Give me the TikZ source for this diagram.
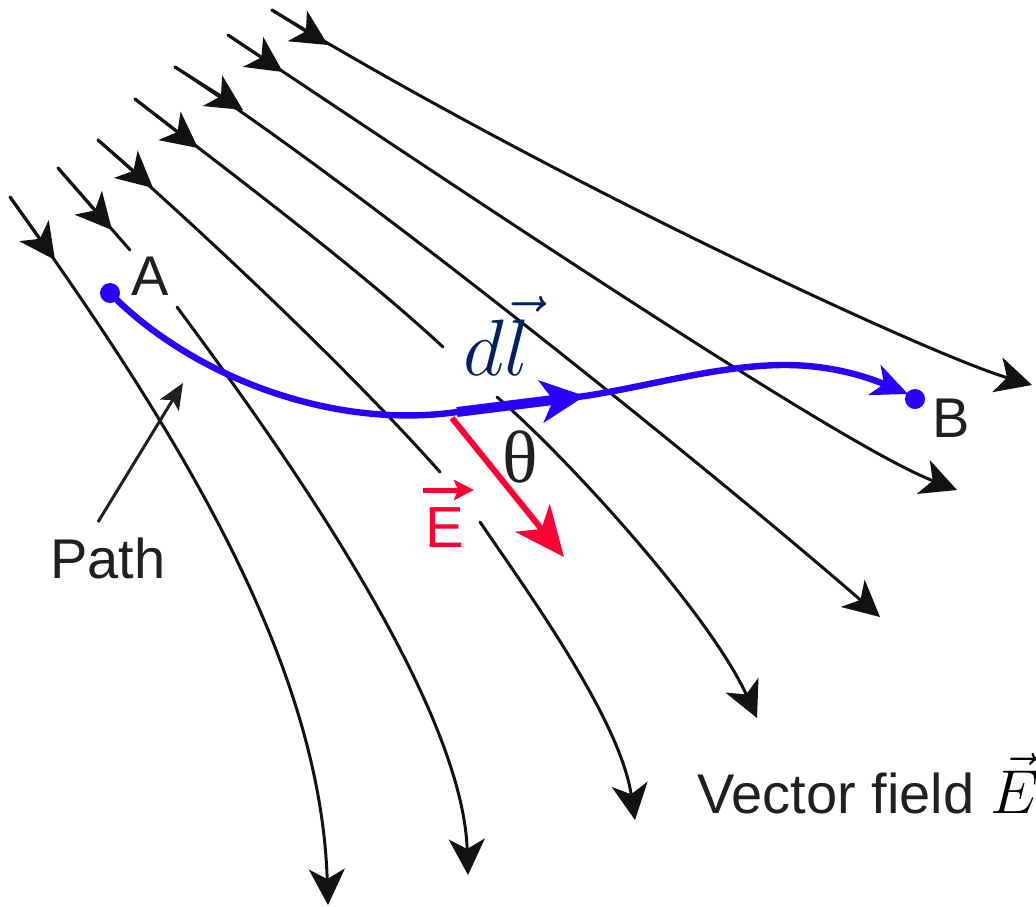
\RequirePackage{fix-cm}
\documentclass[tikz,border=0pt]{standalone}
\usepackage{fontspec}
\newfontfamily\labfont{Liberation Sans}
\newfontfamily\grfont{Liberation Serif}
\usetikzlibrary{arrows.meta}
\definecolor{fieldblack}{RGB}{20,18,16}
\definecolor{pathblue}{RGB}{40,0,255}
\definecolor{evred}{RGB}{255,0,51}
\definecolor{dlnavy}{RGB}{0,32,96}
\definecolor{txt}{RGB}{35,31,32}
\tikzset{
  fieldtip/.tip={Stealth[length=18pt,width=18pt,inset=5pt]},
  field/.style={draw=fieldblack, line width=1.5pt, line cap=round, -fieldtip},
  fieldseg/.style={draw=fieldblack, line width=1.5pt, line cap=round},
  lbl/.style={font=\labfont\fontsize{28}{34}\selectfont, text=txt, inner sep=0pt},
  dot/.style={circle, fill=pathblue, inner sep=0pt, minimum size=10pt},
}
\begin{document}
\begin{tikzpicture}[x=0.5pt,y=-0.5pt]
\useasboundingbox (0,0) rectangle (1036,906);
% ---- field lines ----
% line 1
\draw[field] (10,197) .. controls (160,407) and (320,650) .. (328,905);
\draw[field] (10,197) -- (55,260);
% line 2 (gap for A)
\draw[fieldseg] (58,168) -- (130,250);
\draw[field] (58,168) -- (112,230);
\draw[field] (177,307) .. controls (247,402) and (462,690) .. (468,875);
% line 3 (gap for E)
\draw[fieldseg] (98,140) .. controls (200,230) and (340,360) .. (440,472);
\draw[field] (98,140) -- (153,188);
\draw[field] (480,522) .. controls (530,595) and (620,720) .. (635,820);
% line 4 (gap for dl)
\draw[fieldseg] (135,99) .. controls (240,180) and (360,270) .. (443,347);
\draw[field] (135,99) -- (198,148);
\draw[field] (497,397) .. controls (570,460) and (710,615) .. (757,718);
% line 5
\draw[field] (175,67) .. controls (375,197) and (740,495) .. (880,617);
\draw[field] (175,67) -- (243,110);
% line 6
\draw[field] (228,35) .. controls (468,195) and (840,445) .. (957,490);
\draw[field] (228,35) -- (283,72);
% line 7
\draw[field] (272,10) .. controls (552,180) and (930,355) .. (1032,385);
\draw[field] (272,10) -- (328,45);

% ---- path A -> B ----
\node[dot] (A) at (110,293) {};
\node[dot] (B) at (915,399) {};
\coordinate (dlstart) at (457,412);
\coordinate (dlend) at (585,396);
\coordinate (top) at (785,365);
\coordinate (Btip) at (908,394);
\draw[pathblue, line width=3.2pt, line cap=round, -{Stealth[length=18pt,width=16pt,inset=5pt]}]
  (A.center) .. controls (190,375) and (330,430) .. (dlstart) -- (dlend)
  .. controls (650,386) and (720,365) .. (top)
  .. controls (835,365) and (872,379) .. (Btip);
\draw[pathblue, line width=5pt, -{Stealth[length=22pt,width=21pt,inset=6pt]}] (dlstart) -- (dlend);

% ---- E vector ----
\coordinate (Estart) at (452,418);
\coordinate (Eend) at (564,557);
\draw[evred, line width=3pt, -{Stealth[length=25pt,width=22pt,inset=7pt]}] (Estart) -- (Eend);

% ---- labels ----
\node[lbl, anchor=base] (labA) at (150,295) {A};
\node[lbl, anchor=base] (labB) at (951,437) {B};
\node[lbl, anchor=base] (labPath) at (108,578) {Path};
\coordinate (pathtail) at (98,522);
\coordinate (patharrowtip) at (183,383);
\draw[txt, line width=1.5pt, -{Stealth[length=13pt,width=11pt,inset=3pt]}] (pathtail) -- (patharrowtip);
\node[lbl, anchor=base west] (vf) at (697,813) {Vector field};
\node[anchor=base west, inner sep=0pt, font=\fontsize{31}{36}\selectfont] (vfE) at (990,813) {$\vec{E}$};
\node[anchor=center, inner sep=0pt, font=\grfont\fontsize{37}{42}\selectfont, text=txt] (theta) at (520,457) {θ};
\node[anchor=base west, inner sep=0pt, text=dlnavy, font=\fontsize{40}{46}\selectfont] (dl) at (463,375) {$d\vec{l}$};
\node[lbl, text=evred, anchor=base, font=\labfont\fontsize{29}{34}\selectfont] (labE) at (445,547) {E};
\coordinate (Earrl) at (423,490);
\coordinate (Earrr) at (474,490);
\draw[evred, line width=2.5pt, -{Stealth[length=10pt,width=10pt,inset=2pt]}] (Earrl) -- (Earrr);
\end{tikzpicture}
\end{document}
